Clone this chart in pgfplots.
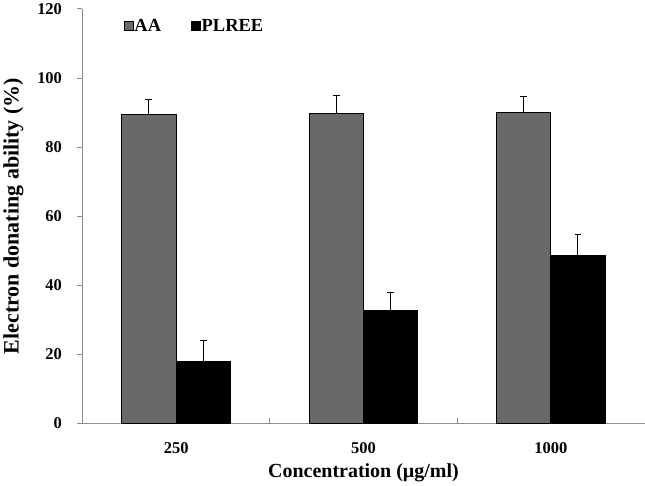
\documentclass[border=0pt]{standalone}
\usepackage{fontspec}
\setmainfont{Liberation Serif}
\usepackage{pgfplots}
\pgfplotsset{compat=1.18}
\definecolor{aagray}{RGB}{105,105,105}
\definecolor{axgray}{RGB}{140,140,140}
\begin{document}
\begin{tikzpicture}
\begin{axis}[
  scale only axis, width=563pt, height=415pt,
  ybar=0pt, bar width=0.29,
  xmin=-0.5, xmax=2.5, ymin=0, ymax=120,
  ytick={0,20,...,120},
  xtick={0,1,2}, xticklabels={250,500,1000},
  minor xtick={0.5,1.5},
  axis x line=bottom, axis y line=left,
  axis line style={axgray, line width=1pt, -},
  tick align=outside,
  major tick length=5pt, minor tick length=5pt,
  major x tick style={draw=none},
  minor x tick style={axgray, line width=0.8pt, yshift=5pt},
  y tick style={axgray, line width=0.8pt},
  /pgf/number format/assume math mode=true,
  ticklabel style={font=\fontsize{16.5}{16.5}\selectfont\bfseries},
  yticklabel style={xshift=-12pt},
  xticklabel style={yshift=-11pt},
  xlabel={Concentration (µg/ml)},
  ylabel={Electron donating ability (\%)},
  xlabel style={font=\fontsize{20}{20}\selectfont\bfseries, yshift=-3pt},
  ylabel style={font=\fontsize{22}{22}\selectfont\bfseries, yshift=7pt},
  legend columns=2,
  legend style={at={(0.068,0.958)}, anchor=west, draw=none, fill=none,
    font=\fontsize{18.5}{18.5}\selectfont\bfseries, nodes={inner sep=1pt},
    /tikz/every even column/.append style={column sep=29pt}},
  sq legend/.style={legend image code/.code={\draw[##1, line width=0.6pt] (0pt,-4.5pt) rectangle (9pt,4.5pt);}},
]
\addplot[sq legend, fill=aagray, draw=black, line width=1pt,
  error bars/.cd, y dir=plus, y explicit,
  error bar style={black, line width=1pt},
  error mark options={rotate=90, mark size=3.5pt, black, line width=1pt}]
  coordinates {(0,89.4) +- (0,4.3) (1,89.7) +- (0,5.2) (2,90.1) +- (0,4.4)};
\addplot[sq legend, fill=black, draw=black, line width=1pt,
  error bars/.cd, y dir=plus, y explicit,
  error bar style={black, line width=1pt},
  error mark options={rotate=90, mark size=3.5pt, black, line width=1pt}]
  coordinates {(0,17.85) +- (0,6.15) (1,32.6) +- (0,5.2) (2,48.7) +- (0,5.9)};
\legend{AA, PLREE}
\end{axis}
\end{tikzpicture}
\end{document}
